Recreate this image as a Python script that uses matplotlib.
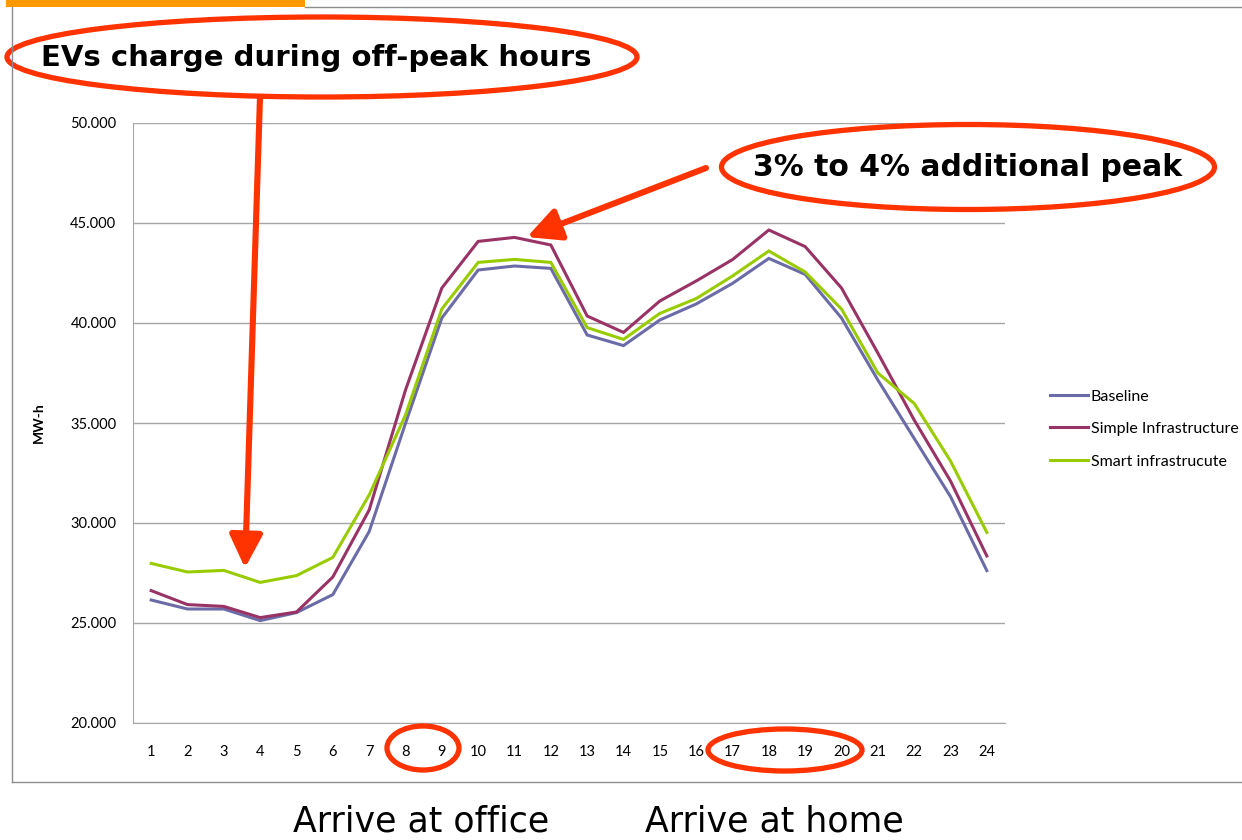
import matplotlib
matplotlib.use('Agg')
import matplotlib.pyplot as plt
from matplotlib.patches import Ellipse, FancyArrowPatch, Rectangle
from matplotlib.lines import Line2D
from matplotlib.ticker import FuncFormatter

# hourly energy demand, MW-h (thousands, as shown)
hours = list(range(1, 25))
baseline = [26.15, 25.70, 25.70, 25.12, 25.52, 26.42, 29.57, 34.98, 40.25, 42.65, 42.85, 42.73,
            39.40, 38.87, 40.15, 40.95, 41.98, 43.23, 42.43, 40.25, 37.15, 34.23, 31.32, 27.62]
simple = [26.62, 25.92, 25.83, 25.27, 25.55, 27.30, 30.65, 36.65, 41.75, 44.08, 44.28, 43.90,
          40.35, 39.53, 41.10, 42.10, 43.17, 44.65, 43.82, 41.75, 38.50, 35.15, 32.10, 28.35]
smart = [27.98, 27.55, 27.63, 27.03, 27.37, 28.28, 31.40, 35.40, 40.70, 43.03, 43.18, 43.03,
         39.77, 39.18, 40.48, 41.22, 42.35, 43.60, 42.55, 40.70, 37.50, 35.98, 33.10, 29.53]
series_names = ['Baseline', 'Simple Infrastructure', 'Smart infrastrucute']
series_colors = ['#6B6BA8', '#993366', '#99CC00']
yticks = [20, 25, 30, 35, 40, 45, 50]

W, H = 1242, 840
RED = '#FF3300'


def fx(x):
    return x / W


def fy(y):
    return 1 - y / H


fig = plt.figure(figsize=(W / 100, H / 100), dpi=100)
fig.patch.set_facecolor('white')

# slide decorations: frame and orange tab
fig.add_artist(Line2D([fx(12), fx(12)], [fy(7), fy(782)], color='#8C8C8C', lw=1.0))
fig.add_artist(Line2D([fx(12), fx(1242)], [fy(782), fy(782)], color='#8C8C8C', lw=1.0))
fig.add_artist(Line2D([fx(305), fx(1242)], [fy(7), fy(7)], color='#8C8C8C', lw=1.0))
fig.add_artist(Rectangle((fx(6), fy(7)), fx(299), 7 / H, transform=fig.transFigure,
                         facecolor='#FF9900', edgecolor='none'))

ax = fig.add_axes([fx(133), fy(723), 872 / W, 600 / H])
for vals, name, c in zip([baseline, simple, smart], series_names, series_colors):
    ax.plot(hours, vals, color=c, lw=2.2, label=name, solid_joinstyle='miter')

ax.set_xlim(0.5, 24.5)
ax.set_ylim(20, 50)
ax.set_yticks(yticks)
ax.yaxis.set_major_formatter(FuncFormatter(lambda v, p: '%d.000' % v))
ax.set_xticks(hours)
ax.grid(axis='y', color='#A6A6A6', lw=1.0)
ax.set_axisbelow(True)
for s in ['top', 'right']:
    ax.spines[s].set_visible(False)
for s in ['left', 'bottom']:
    ax.spines[s].set_color('#A6A6A6')
ax.tick_params(axis='x', length=0, labelsize=10.5, pad=16)
ax.tick_params(axis='y', length=0, labelsize=10.5, pad=12)
for lab in ax.get_xticklabels() + ax.get_yticklabels():
    lab.set_family('Lato')
ax.set_ylabel('MW-h', fontsize=10, fontweight='bold', family='Lato', labelpad=18)

ax.legend(loc='center left', bbox_to_anchor=(fx(1050), fy(429)), bbox_transform=fig.transFigure,
          frameon=False, borderpad=0, borderaxespad=0, handlelength=2.4, handletextpad=0.15,
          labelspacing=1.15, prop={'family': 'Lato', 'size': 11.5})

# callouts
def ellipse(cx, cy, w, h):
    fig.add_artist(Ellipse((fx(cx), fy(cy)), w / W, h / H, transform=fig.transFigure,
                           fill=False, edgecolor=RED, lw=3.8))


def arrow(x0, y0, x1, y1):
    fig.add_artist(FancyArrowPatch((fx(x0), fy(y0)), (fx(x1), fy(y1)), transform=fig.transFigure,
                                   arrowstyle='-|>,head_width=0.5,head_length=1.0',
                                   mutation_scale=20, color=RED, lw=4.4, shrinkA=0, shrinkB=0))


ellipse(322, 57, 630, 80)
fig.text(fx(316), fy(58), 'EVs charge during off-peak hours', ha='center', va='center',
         fontsize=21, fontweight='bold', family='DejaVu Sans')
arrow(260, 97, 245, 568)

ellipse(968, 167, 493, 85)
fig.text(fx(968), fy(168), '3% to 4% additional peak', ha='center', va='center',
         fontsize=21.5, fontweight='bold', family='DejaVu Sans')
arrow(706, 168, 527, 237)

ellipse(423, 748, 72, 44)
ellipse(785, 750, 154, 42)

fig.text(fx(421), fy(822), 'Arrive at office', ha='center', va='center', fontsize=25,
         family='DejaVu Sans')
fig.text(fx(774), fy(822), 'Arrive at home', ha='center', va='center', fontsize=25,
         family='DejaVu Sans')

fig.savefig('out.png', dpi=100)
